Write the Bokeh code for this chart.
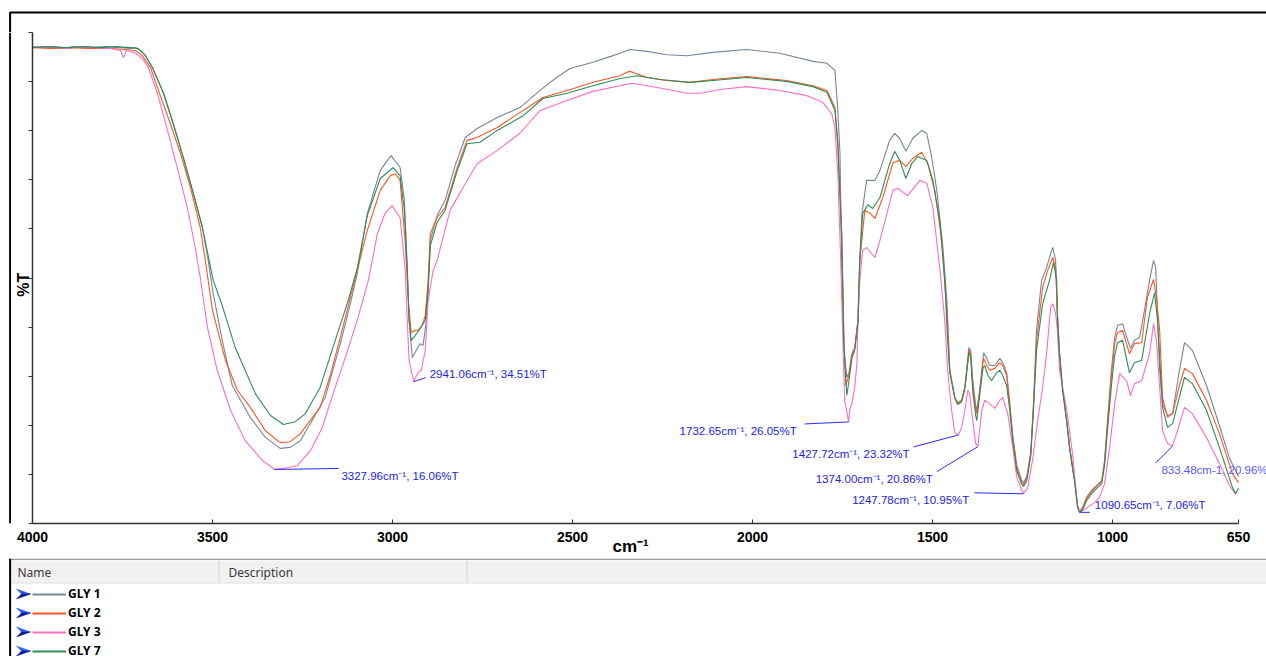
import numpy as np
from bokeh.plotting import figure
from bokeh.layouts import row, column
from bokeh.models import Range1d, FixedTicker, Label, Legend, LegendItem
from bokeh.core.properties import value
from bokeh.embed import file_html
from bokeh.resources import INLINE

# ---------------- data ----------------
WN_TICKS = [4000, 3500, 3000, 2500, 2000, 1500, 1000, 650]
SERIES_NAMES = ["GLY 1", "GLY 2", "GLY 3", "GLY 7"]
SERIES_COLORS = ["#76869a", "#ff5522", "#ff6cc6", "#2e8b57"]
TABLE_HEADERS = ["Name", "Description"]

gly1_wn = [4000, 3964, 3922, 3881, 3839, 3797, 3756, 3728, 3714, 3700, 3686, 3667, 3636, 3609, 3581, 3553,
           3528, 3512, 3498, 3473, 3445, 3395, 3353, 3312, 3284, 3256, 3228, 3187, 3145, 3117, 3098, 3070,
           3034, 3004, 2979, 2967, 2959, 2954, 2945, 2934, 2923, 2915, 2906, 2901, 2895, 2876, 2854, 2826,
           2798, 2765, 2709, 2646, 2590, 2548, 2507, 2443, 2396, 2368, 2340, 2293, 2238, 2182, 2110, 2016,
           1924, 1832, 1793, 1771, 1763, 1757, 1752, 1746, 1738, 1732, 1724, 1716, 1707, 1702, 1696, 1683,
           1660, 1646, 1619, 1605, 1591, 1574, 1555, 1530, 1516, 1502, 1488, 1471, 1460, 1452, 1438, 1430,
           1419, 1410, 1402, 1399, 1394, 1388, 1380, 1377, 1369, 1360, 1358, 1349, 1341, 1327, 1313, 1305,
           1294, 1286, 1277, 1266, 1252, 1247, 1238, 1227, 1219, 1211, 1197, 1183, 1169, 1166, 1158, 1153,
           1147, 1139, 1127, 1119, 1105, 1097, 1091, 1083, 1072, 1058, 1044, 1030, 1022, 1014, 1003, 994,
           986, 972, 958, 950, 939, 925, 916, 897, 886, 880, 875, 869, 861, 847, 833, 814,
           800, 778, 739, 703, 675, 650]
gly1_t = [104.7, 104.9, 104.5, 104.9, 104.7, 104.9, 104.7, 104.5, 104.7, 104.1, 103.0, 100.5, 95.1, 88.7, 81.6, 74.0,
          66.9, 60.0, 53.0, 43.2, 33.7, 27.0, 22.8, 20.5, 20.7, 22.1, 25.7, 31.2, 42.5, 50.9, 57.2, 69.8,
          78.9, 82.0, 79.5, 72.6, 58.5, 47.4, 39.6, 41.1, 42.5, 42.1, 47.4, 53.7, 64.2, 69.4, 72.6, 79.9,
          85.8, 87.7, 90.0, 92.1, 95.7, 98.2, 100.3, 101.6, 102.8, 103.5, 104.3, 103.9, 103.2, 103.0, 103.7, 104.3,
          103.5, 101.8, 101.4, 99.9, 91.5, 82.5, 58.5, 41.1, 35.4, 36.4, 40.4, 41.7, 47.4, 60.0, 69.8, 76.8,
          76.8, 78.9, 85.2, 86.7, 85.6, 82.9, 85.6, 87.3, 86.7, 81.6, 74.7, 62.7, 51.6, 36.9, 31.2, 30.1,
          30.6, 33.3, 39.0, 41.7, 41.1, 34.7, 29.5, 28.5, 32.7, 39.0, 40.6, 39.4, 37.9, 37.9, 39.4, 38.5,
          36.4, 30.6, 23.2, 16.9, 13.7, 13.3, 14.6, 19.6, 30.6, 45.3, 55.8, 58.5, 62.1, 62.7, 60.0, 48.8,
          40.4, 33.3, 26.3, 20.7, 13.7, 8.5, 7.2, 8.1, 10.2, 11.7, 12.7, 13.7, 18.0, 26.3, 36.9, 43.8,
          46.3, 46.7, 43.2, 41.5, 43.2, 43.8, 47.4, 55.8, 60.0, 58.5, 48.8, 36.9, 29.9, 27.4, 27.8, 36.9,
          42.7, 41.1, 33.7, 25.3, 18.4, 14.6]

gly2_wn = [4000, 3950, 3895, 3839, 3784, 3742, 3714, 3695, 3672, 3645, 3617, 3589, 3561, 3534, 3520, 3500,
           3464, 3431, 3395, 3353, 3312, 3284, 3256, 3201, 3173, 3145, 3117, 3098, 3070, 3034, 3006, 2992,
           2979, 2965, 2956, 2948, 2937, 2929, 2918, 2909, 2901, 2895, 2876, 2854, 2820, 2793, 2765, 2709,
           2637, 2582, 2515, 2443, 2368, 2349, 2340, 2326, 2293, 2238, 2174, 2110, 2016, 1905, 1832, 1793,
           1771, 1763, 1752, 1746, 1741, 1732, 1724, 1716, 1707, 1702, 1688, 1675, 1660, 1638, 1610, 1591,
           1574, 1555, 1530, 1513, 1494, 1474, 1460, 1452, 1438, 1430, 1419, 1410, 1402, 1399, 1394, 1388,
           1380, 1377, 1369, 1360, 1358, 1349, 1341, 1327, 1313, 1305, 1294, 1286, 1277, 1266, 1252, 1247,
           1238, 1227, 1219, 1211, 1194, 1180, 1166, 1158, 1153, 1147, 1139, 1127, 1119, 1105, 1097, 1091,
           1083, 1072, 1058, 1044, 1030, 1022, 1014, 1003, 994, 986, 972, 953, 939, 919, 903, 886,
           878, 869, 861, 847, 833, 814, 800, 778, 739, 703, 667, 650]
gly2_t = [104.7, 104.5, 104.7, 104.5, 104.5, 104.3, 104.1, 103.0, 100.5, 94.6, 88.7, 82.5, 75.3, 66.9, 60.0, 49.5,
          39.0, 32.7, 29.1, 24.2, 21.7, 21.9, 23.6, 29.1, 35.8, 43.8, 52.2, 57.9, 66.3, 74.7, 77.8, 78.2,
          76.8, 64.2, 51.6, 44.8, 45.3, 45.3, 46.3, 48.4, 55.8, 65.6, 69.0, 71.1, 79.5, 85.2, 85.8, 87.9,
          91.5, 94.2, 95.7, 97.4, 98.8, 99.5, 99.7, 99.3, 98.4, 97.8, 97.4, 98.0, 98.6, 97.8, 96.7, 95.7,
          92.1, 85.2, 65.6, 43.2, 33.7, 35.8, 40.0, 41.5, 47.4, 60.0, 70.5, 70.0, 68.8, 73.2, 80.5, 81.0,
          79.7, 81.4, 82.7, 80.3, 74.7, 64.2, 48.8, 36.9, 31.2, 29.9, 30.6, 33.3, 39.0, 41.1, 40.4, 33.7,
          28.5, 27.8, 32.2, 38.5, 39.4, 37.9, 36.9, 37.3, 38.5, 37.9, 35.8, 29.9, 22.8, 16.5, 13.3, 12.9,
          14.2, 19.4, 29.9, 43.2, 54.3, 57.9, 60.6, 58.5, 48.8, 40.4, 33.3, 26.3, 20.7, 13.7, 8.3, 7.0,
          7.9, 10.0, 11.4, 12.5, 13.5, 17.5, 25.3, 35.8, 42.5, 44.8, 45.3, 40.4, 42.5, 42.7, 52.2, 56.0,
          52.2, 45.3, 31.2, 27.0, 27.8, 33.7, 37.3, 36.2, 30.6, 23.6, 15.2, 13.3]

gly3_wn = [4000, 3972, 3936, 3900, 3867, 3825, 3784, 3756, 3747, 3739, 3714, 3695, 3678, 3653, 3625, 3598,
           3570, 3548, 3534, 3514, 3487, 3450, 3409, 3362, 3328, 3300, 3264, 3228, 3195, 3165, 3131, 3098,
           3067, 3042, 3020, 3001, 2979, 2965, 2959, 2954, 2941, 2937, 2929, 2920, 2909, 2901, 2887, 2876,
           2840, 2804, 2765, 2709, 2646, 2590, 2515, 2443, 2368, 2332, 2265, 2182, 2146, 2090, 2016, 1924,
           1849, 1805, 1780, 1771, 1763, 1755, 1749, 1744, 1733, 1730, 1724, 1716, 1710, 1707, 1702, 1694,
           1683, 1660, 1646, 1610, 1596, 1569, 1535, 1516, 1499, 1480, 1466, 1458, 1447, 1438, 1428, 1419,
           1410, 1402, 1397, 1388, 1380, 1374, 1363, 1355, 1341, 1327, 1313, 1305, 1291, 1277, 1266, 1252,
           1248, 1236, 1222, 1208, 1194, 1183, 1172, 1166, 1158, 1153, 1147, 1127, 1111, 1097, 1090, 1070,
           1050, 1036, 1022, 1008, 994, 980, 961, 950, 939, 919, 897, 886, 878, 869, 861, 847,
           834, 822, 800, 778, 739, 703, 675, 658]
gly3_t = [104.9, 104.7, 104.9, 104.5, 104.9, 104.7, 104.5, 104.1, 102.6, 104.1, 103.5, 102.4, 100.5, 95.1, 87.3, 79.5,
          71.1, 62.7, 56.4, 45.9, 36.9, 28.5, 22.1, 18.0, 16.1, 16.3, 16.9, 20.0, 24.9, 32.0, 39.6, 47.4,
          55.8, 65.6, 70.0, 71.5, 69.0, 58.5, 47.4, 39.0, 34.5, 35.2, 36.4, 36.9, 41.1, 51.6, 57.9, 60.0,
          70.5, 75.3, 80.3, 83.1, 86.7, 91.5, 93.6, 95.5, 96.7, 97.2, 96.3, 95.1, 95.1, 95.9, 96.5, 95.7,
          94.6, 93.2, 90.8, 87.9, 78.2, 60.0, 43.2, 30.6, 26.1, 28.5, 29.9, 33.3, 38.3, 47.4, 55.8, 62.1,
          62.7, 60.6, 64.2, 74.7, 75.1, 73.6, 76.8, 76.2, 71.1, 58.5, 47.4, 36.9, 28.5, 23.8, 23.3, 24.9,
          28.5, 32.7, 32.0, 26.3, 21.5, 20.9, 28.5, 30.6, 29.9, 28.9, 30.6, 31.2, 27.8, 20.7, 14.4, 11.7,
          11.0, 12.1, 18.0, 26.3, 33.3, 40.4, 50.1, 50.9, 48.8, 45.3, 36.9, 28.5, 19.4, 8.1, 7.1, 8.1,
          9.1, 10.2, 13.1, 20.7, 29.9, 36.2, 34.7, 31.6, 34.1, 34.7, 40.4, 46.7, 43.2, 33.3, 24.2, 21.5,
          21.0, 23.6, 29.1, 27.8, 22.8, 17.3, 12.7, 10.8]

gly7_wn = [4000, 3956, 3908, 3853, 3811, 3770, 3728, 3706, 3686, 3667, 3636, 3609, 3581, 3553, 3528, 3498,
           3473, 3437, 3381, 3339, 3303, 3270, 3242, 3201, 3159, 3123, 3098, 3070, 3034, 2998, 2979, 2967,
           2959, 2954, 2948, 2937, 2923, 2909, 2901, 2895, 2876, 2854, 2820, 2793, 2757, 2709, 2637, 2582,
           2515, 2443, 2368, 2321, 2257, 2174, 2110, 2016, 1905, 1832, 1793, 1771, 1763, 1752, 1746, 1738,
           1732, 1724, 1716, 1707, 1702, 1694, 1680, 1666, 1646, 1619, 1605, 1591, 1574, 1558, 1541, 1516,
           1499, 1480, 1466, 1458, 1452, 1438, 1430, 1419, 1410, 1402, 1399, 1394, 1388, 1380, 1377, 1369,
           1360, 1355, 1346, 1336, 1322, 1313, 1305, 1294, 1286, 1277, 1266, 1252, 1247, 1238, 1227, 1219,
           1211, 1194, 1175, 1164, 1155, 1153, 1147, 1139, 1127, 1119, 1105, 1097, 1091, 1083, 1072, 1058,
           1044, 1030, 1022, 1014, 1003, 994, 986, 972, 953, 939, 919, 897, 883, 875, 861, 847,
           833, 800, 778, 739, 703, 667, 658, 650]
gly7_t = [104.7, 104.9, 104.7, 104.9, 104.7, 104.9, 104.7, 104.5, 103.0, 100.5, 95.1, 88.7, 81.6, 74.0, 66.9, 55.8,
          50.5, 41.7, 32.0, 27.4, 25.5, 26.1, 27.8, 33.3, 43.2, 51.6, 58.3, 69.4, 77.2, 79.5, 77.8, 70.5,
          57.9, 47.4, 43.2, 44.2, 45.7, 47.4, 53.7, 63.1, 68.0, 70.5, 78.9, 84.5, 84.8, 87.3, 90.4, 94.0,
          95.1, 96.7, 98.2, 98.8, 98.0, 97.4, 97.8, 98.4, 97.6, 96.5, 95.3, 91.5, 84.1, 64.2, 42.1, 31.6,
          34.7, 39.4, 41.1, 46.9, 60.0, 69.8, 71.7, 70.9, 73.2, 80.3, 82.9, 81.0, 77.2, 80.3, 81.8, 81.0,
          76.8, 68.4, 55.8, 43.2, 36.4, 31.0, 29.7, 30.3, 33.1, 38.5, 40.6, 39.8, 32.2, 27.4, 26.3, 31.6,
          37.3, 37.9, 35.8, 34.7, 36.4, 36.9, 35.8, 33.7, 28.9, 22.1, 15.8, 12.9, 12.5, 13.7, 19.0, 29.5,
          41.1, 50.9, 55.8, 59.5, 55.8, 47.4, 40.0, 32.9, 25.9, 20.3, 13.3, 8.1, 7.0, 7.6, 9.5, 11.0,
          12.1, 13.1, 16.9, 24.2, 33.7, 40.0, 42.7, 43.2, 36.4, 38.5, 39.0, 48.8, 53.2, 47.4, 29.1, 24.9,
          25.7, 35.4, 34.1, 28.5, 20.7, 12.3, 11.0, 12.1]

SERIES_WN = [gly1_wn, gly2_wn, gly3_wn, gly7_wn]
SERIES_T = [gly1_t, gly2_t, gly3_t, gly7_t]

# peak annotations
peak_wn = [3327.96, 2941.06, 1732.65, 1427.72, 1374.00, 1247.78, 1090.65, 833.48]
peak_t = [16.06, 34.51, 26.05, 23.32, 20.86, 10.95, 7.06, 20.96]
peak_text = ["3327.96cm\u207b\u00b9, 16.06%T", "2941.06cm\u207b\u00b9, 34.51%T",
             "1732.65cm\u207b\u00b9, 26.05%T", "1427.72cm\u207b\u00b9, 23.32%T",
             "1374.00cm\u207b\u00b9, 20.86%T", "1247.78cm\u207b\u00b9, 10.95%T",
             "1090.65cm\u207b\u00b9, 7.06%T", "833.48cm-1, 20.96%T"]

# ---------------- layout (page pixels) ----------------
PAGE_W, PAGE_H = 1266, 656
LEFT_W = 11            # strip holding the outer left border line
TOP_H = 32             # strip holding the outer top border line
TABLE_TOP = 558        # y where the table area starts
BORDER_X, BORDER_Y = 9.6, 12
MAIN_W = PAGE_W - LEFT_W
CHART_H = TABLE_TOP - TOP_H
DATA_LEFT, DATA_RIGHT, DATA_BOTTOM = 32, 1238, 523
BL = DATA_LEFT - LEFT_W
BB = TABLE_TOP - DATA_BOTTOM
DATA_W = DATA_RIGHT - DATA_LEFT
FRAME_W = MAIN_W - BL
FRAME_H = DATA_BOTTOM - TOP_H
X_START, X_END = 4000, 650
X_VIEW_END = X_END - (FRAME_W - DATA_W) * (X_START - X_END) / DATA_W
Y_START, Y_END = 4.71, 107.87
NBSP = "\u00a0"   # trailing padding that nudges the axis titles along their axes


def blank(w, h, xr, yr):
    f = figure(width=w, height=h, x_range=xr, y_range=yr, min_border=0,
               x_axis_location=None, y_axis_location=None, toolbar_location=None,
               output_backend="svg")
    f.outline_line_color = None
    f.grid.visible = False
    f.background_fill_color = "white"
    f.border_fill_color = "white"
    return f


# outer frame lines (decorations, in page pixels)
top_fig = blank(PAGE_W, TOP_H, Range1d(0, PAGE_W), Range1d(TOP_H, 0))
top_fig.line([BORDER_X, BORDER_X, PAGE_W], [TOP_H, BORDER_Y, BORDER_Y], line_color="black", line_width=2)
left_fig = blank(LEFT_W, CHART_H, Range1d(0, LEFT_W), Range1d(TABLE_TOP, TOP_H))
left_fig.line([BORDER_X, BORDER_X], [TOP_H, TABLE_TOP], line_color="black", line_width=2)

# ---------------- the chart ----------------
p = figure(width=MAIN_W, height=CHART_H, output_backend="svg", toolbar_location=None,
           x_range=Range1d(X_START, X_VIEW_END), y_range=Range1d(Y_START, Y_END),
           min_border_left=BL, min_border_right=0, min_border_top=0, min_border_bottom=BB)
p.outline_line_color = None
p.grid.visible = False
p.background_fill_color = "white"
p.border_fill_color = "white"

for wn, t, c in zip(SERIES_WN, SERIES_T, SERIES_COLORS):
    p.line(wn, t, line_color=c, line_width=1.1)

xa = p.xaxis[0]
xa.ticker = FixedTicker(ticks=WN_TICKS)
xa.bounds = (X_END, X_START)
xa.minor_tick_line_color = None
xa.major_tick_in = 4
xa.major_tick_out = 0
xa.axis_line_color = "#333333"
xa.axis_line_width = 1.5
xa.major_tick_line_color = "#333333"
xa.major_label_text_font = "Liberation Sans"
xa.major_label_text_font_style = "bold"
xa.major_label_text_font_size = "14px"
xa.major_label_text_color = "black"
xa.major_label_standoff = 8
xa.axis_label = "cm\u207b\u00b9" + NBSP * 8
xa.axis_label_text_font = "Liberation Sans"
xa.axis_label_text_font_style = "bold"
xa.axis_label_text_font_size = "17px"
xa.axis_label_text_color = "black"
xa.axis_label_standoff = -8

ya = p.yaxis[0]
y_ticks = list(np.linspace(Y_START, Y_END, 11))
ya.ticker = FixedTicker(ticks=y_ticks)
ya.major_label_overrides = {t: "" for t in y_ticks}
ya.minor_tick_line_color = None
ya.major_tick_in = 0
ya.major_tick_out = 4
ya.axis_line_color = "#333333"
ya.axis_line_width = 1.5
ya.major_tick_line_color = "#333333"
ya.major_label_standoff = 0
ya.axis_label = "%T" + NBSP * 3
ya.axis_label_text_font = "Liberation Sans"
ya.axis_label_text_font_style = "bold"
ya.axis_label_text_font_size = "16px"
ya.axis_label_text_color = "black"
ya.axis_label_standoff = -3

# peak annotations: offsets in px (text dx, text dy down, align, leader-end dx, leader-end dy down)
ann_style = [(67, 7, "left", 64, -1), (16, -8, "left", 12, -4), (-52, 9, "right", -44, 2),
             (-49, 19, "right", -45, 12), (-45, 32, "right", -41, 25), (-54, 6, "right", -49, -1),
             (15, -7, "left", 10, 0), (-11, 24, "left", -17, 17)]
XS = (X_START - X_END) / DATA_W
YS = (Y_END - Y_START) / FRAME_H
seg_x0, seg_y0, seg_x1, seg_y1 = [], [], [], []
for i, (wn, t, txt) in enumerate(zip(peak_wn, peak_t, peak_text)):
    tdx, tdy, align, ldx, ldy = ann_style[i]
    seg_x0.append(wn)
    seg_y0.append(t)
    seg_x1.append(wn - ldx * XS)
    seg_y1.append(t - ldy * YS)
    col = "#5a5aff" if i == len(peak_wn) - 1 else "#2222ee"
    p.add_layout(Label(x=wn, y=t, x_offset=tdx, y_offset=-tdy, text=txt,
                       text_align=align, text_baseline="middle", text_color=col,
                       text_font="Liberation Sans", text_font_size="11.5px"))
p.segment(seg_x0, seg_y0, seg_x1, seg_y1, line_color="#2a2aff", line_width=1)

# ---------------- the table under the chart (page pixels) ----------------
tb = blank(PAGE_W, PAGE_H - TABLE_TOP, Range1d(0, PAGE_W), Range1d(PAGE_H, TABLE_TOP))
tb.quad(left=[BORDER_X], right=[PAGE_W], top=[560], bottom=[582], fill_color="#f1f1f1", line_color=None)
tb.line([BORDER_X, PAGE_W], [558.8, 558.8], line_color="#9a9a9a", line_width=1.6)
tb.line([BORDER_X, PAGE_W], [582.5, 582.5], line_color="#dcdcdc", line_width=1)
tb.segment([218.5, 466.5], [560, 560], [218.5, 466.5], [582, 582], line_color="#d4d4d4", line_width=1)
tb.line([BORDER_X, BORDER_X], [TABLE_TOP, PAGE_H], line_color="black", line_width=2)
tb.text(x=[17, 228], y=[571.5, 571.5], text=TABLE_HEADERS, text_baseline="middle",
        text_font=value("Noto Sans"), text_font_size="12px", text_color="#3a3a3a")

# selection chevrons in front of each row (two-tone arrow heads)
row_y = [593.5, 612.5, 631.5, 650.5]
up_x, up_y, lo_x, lo_y = [], [], [], []
for ry in row_y:
    up_x.append([16, 30, 21])
    up_y.append([ry - 5, ry, ry])
    lo_x.append([21, 30, 16])
    lo_y.append([ry, ry, ry + 5])
tb.patches(up_x, up_y, fill_color="#2f5cf0", line_color="#2f5cf0", line_width=0.5)
tb.patches(lo_x, lo_y, fill_color="#0c1d8f", line_color="#0c1d8f", line_width=0.5)

legend_renderers = [tb.line([-60, -50], [600, 600], line_color=c, line_width=2) for c in SERIES_COLORS]
legend = Legend(items=[LegendItem(label=n, renderers=[r]) for n, r in zip(SERIES_NAMES, legend_renderers)],
                location=(DATA_LEFT, -3), orientation="vertical", padding=0, margin=0,
                spacing=2, glyph_width=34, glyph_height=16, label_height=16, label_standoff=2,
                label_text_font="Noto Sans", label_text_font_style="bold", label_text_font_size="12px",
                label_text_color="black", border_line_color=None, background_fill_alpha=0)
tb.add_layout(legend)

root = column(top_fig, row(left_fig, p), tb)
open("out.html", "w").write(file_html(root, INLINE))
